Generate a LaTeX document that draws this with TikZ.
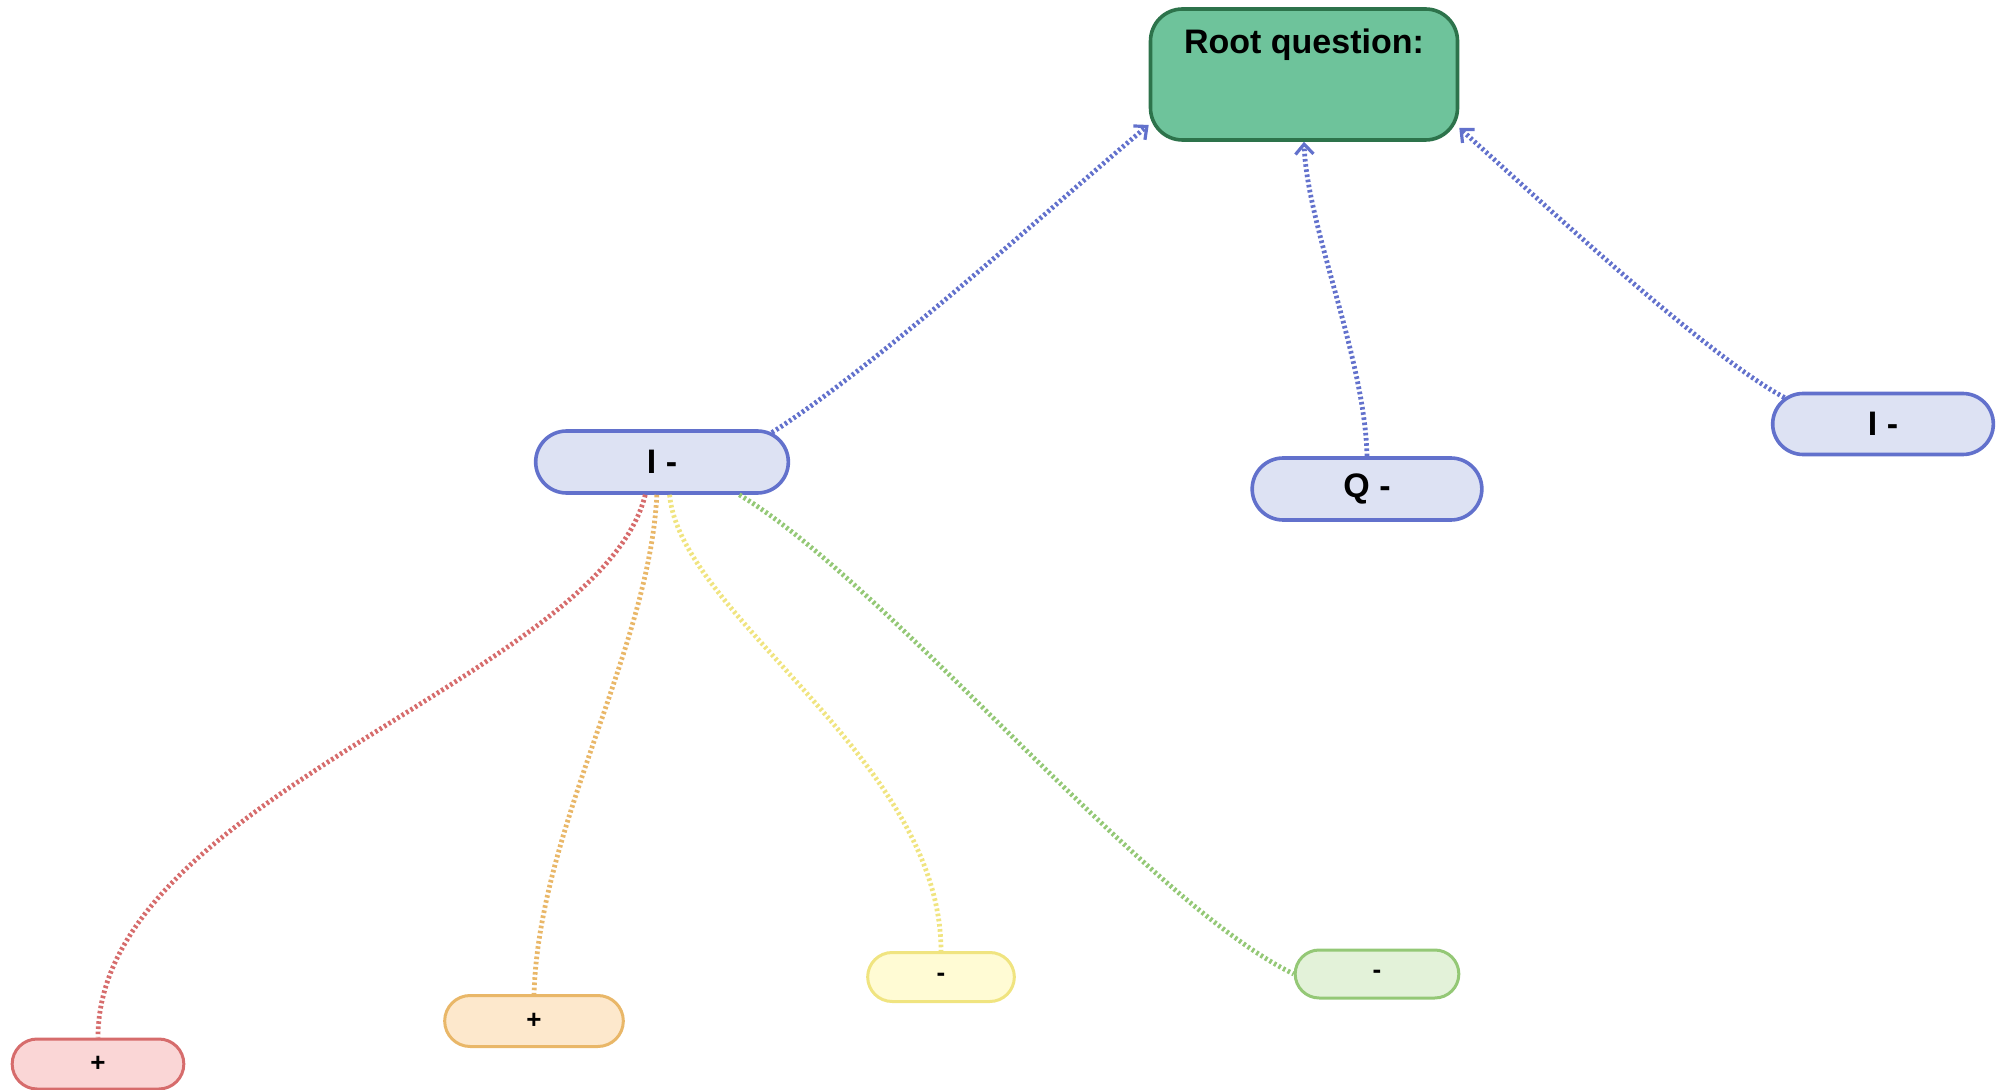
\documentclass[tikz,border=0pt]{standalone}
\usepackage{fontspec}
\setmainfont{Liberation Sans}
\usetikzlibrary{arrows.meta, shapes.misc}
\definecolor{rootFill}{RGB}{110,195,155}
\definecolor{rootLine}{RGB}{45,115,75}
\definecolor{pillFill}{RGB}{221,226,243}
\definecolor{pillLine}{RGB}{98,113,204}
\definecolor{redFill}{RGB}{250,214,214}
\definecolor{redLine}{RGB}{214,108,108}
\definecolor{orangeFill}{RGB}{253,232,204}
\definecolor{orangeLine}{RGB}{233,183,104}
\definecolor{yellowFill}{RGB}{255,251,212}
\definecolor{yellowLine}{RGB}{240,228,128}
\definecolor{greenFill}{RGB}{227,242,217}
\definecolor{greenLine}{RGB}{148,200,118}
\tikzset{
big text/.style={font=\fontsize{17}{20}\selectfont\bfseries}, % labels of the question pills
small text/.style={font=\fontsize{13}{15}\selectfont\bfseries}, % labels of the leaves
pill/.style={rounded rectangle, draw=pillLine, fill=pillFill, line width=1.8pt, big text}, % the blue pills
leaf/.style={rounded rectangle, line width=1.5pt, small text}, % the coloured leaves
dots/.style={line width=2.4pt, dash pattern=on 1.3pt off 1.3pt}, % dotted connectors
up link/.style={dots, draw=pillLine, -{Straight Barb[length=5pt, width=9pt, line width=1.6pt]}}, % links to the root
}

\begin{document}
\begin{tikzpicture}[
  x=0.5pt, y=-0.5pt,
  root box/.style={rectangle, rounded corners=16pt, draw=rootLine, fill=rootFill, line width=1.8pt,
    minimum width=153.5pt, minimum height=65.5pt, text height=13pt, text depth=34pt, big text}
]
  \useasboundingbox (0,0) rectangle (2007,1090);

  \node[root box] (root) at (1304,74.5) {Root question:};

  \node[pill, minimum width=133pt, minimum height=31pt] (iLeft) at (662,462) {I -};
  \node[pill, minimum width=121.5pt, minimum height=31pt] (qMid) at (1367,489) {Q -};
  \node[pill, minimum width=117pt, minimum height=30.5pt] (iRight) at (1883,424) {I -};

  \node[leaf, draw=redLine, fill=redFill, minimum width=92.5pt, minimum height=25pt] (plusRed) at (98,1064) {+};
  \node[leaf, draw=orangeLine, fill=orangeFill, minimum width=96pt, minimum height=25.5pt] (plusOrange) at (534,1021) {+};
  \node[leaf, draw=yellowLine, fill=yellowFill, minimum width=80pt, minimum height=24.5pt] (minusYellow) at (941,977) {-};
  \node[leaf, draw=greenLine, fill=greenFill, minimum width=88.5pt, minimum height=24pt] (minusGreen) at (1377,974) {-};

  % links up to the root question
  \draw[up link] (iLeft.15) .. controls +(110,-70) and +(-90,75) .. (root.198);
  \draw[up link] (qMid.north) .. controls +(-2,-98) and +(3,85) .. (root.south);
  \draw[up link] (iRight.165) .. controls +(-77,-41) and +(80,72) .. (root.-19);

  % branches down to the leaves
  \draw[dots, draw=redLine] (iLeft.-117) .. controls +(-46,183) and +(0,-239) .. (plusRed.north);
  \draw[dots, draw=orangeLine] (iLeft.-99) .. controls +(-7,153) and +(5,-166) .. (plusOrange.north);
  \draw[dots, draw=yellowLine] (iLeft.-77) .. controls +(11,121) and +(0,-192) .. (minusYellow.north);
  \draw[dots, draw=greenLine] (iLeft.-23) .. controls +(150,90) and +(-150,-73) .. (minusGreen.west);
\end{tikzpicture}
\end{document}
